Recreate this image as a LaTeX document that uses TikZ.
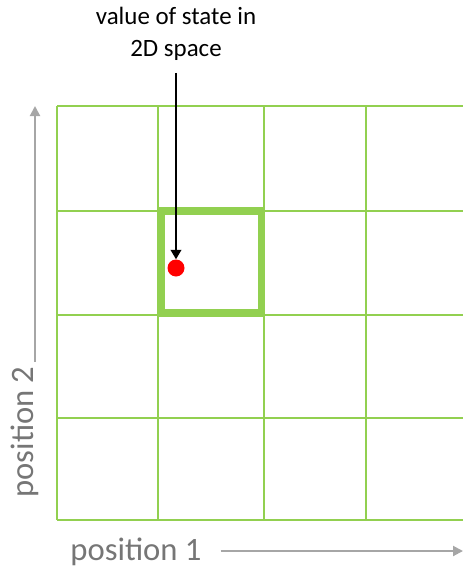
\documentclass[tikz,border=0pt]{standalone}
\usepackage{fontspec}
\setmainfont{Carlito}
\usepackage{xcolor}
\usetikzlibrary{arrows.meta,positioning}
\definecolor{gridGreen}{RGB}{146,208,80}
\definecolor{axisGray}{RGB}{166,166,166}
\definecolor{labelGray}{RGB}{118,118,118}

\begin{document}
\begin{tikzpicture}[>={Triangle[length=7.5pt,width=7.5pt]},x=0.75pt,y=-0.75pt,
  gridline/.style={gridGreen,line width=2pt},
  axislabel/.style={text=labelGray,font=\fontsize{24.5}{28}\selectfont,inner sep=0pt},
  axisarrow/.style={->,axisGray,line width=1.5pt}]
\useasboundingbox (0,0) rectangle (463,567);
% grid of cells
\foreach \x in {57,158,264,366}
  \draw[gridline] (\x,106) -- (\x,520);
\foreach \y in {106,211,315,418,520}
  \draw[gridline] (57,\y) -- (463,\y);
\draw[gridGreen,line width=5.5pt] (161,211) rectangle (261.5,313);
% state and its label
\node[circle,fill=red,minimum size=12.75pt,inner sep=0pt] (state) at (176,268) {};
\node[align=center,font=\fontsize{18.7}{24}\selectfont,inner sep=0pt] (statelabel) at (176,34) {value of state in\\2D space};
\draw[-{Triangle[length=7pt,width=8pt]},line width=1.1pt,shorten <=9pt] (statelabel.south) -- (state.north);
% axes
\coordinate (xend) at (463,551);
\coordinate (yend) at (35,106);
\node[axislabel] (pos1) at (136,552) {position 1};
\draw[axisarrow,shorten <=14pt] (pos1.east |- xend) -- (xend);
\node[axislabel,rotate=90] (pos2) at (25,432) {position 2};
\draw[axisarrow,shorten <=3pt] (pos2.east -| yend) -- (yend);
\end{tikzpicture}
\end{document}
